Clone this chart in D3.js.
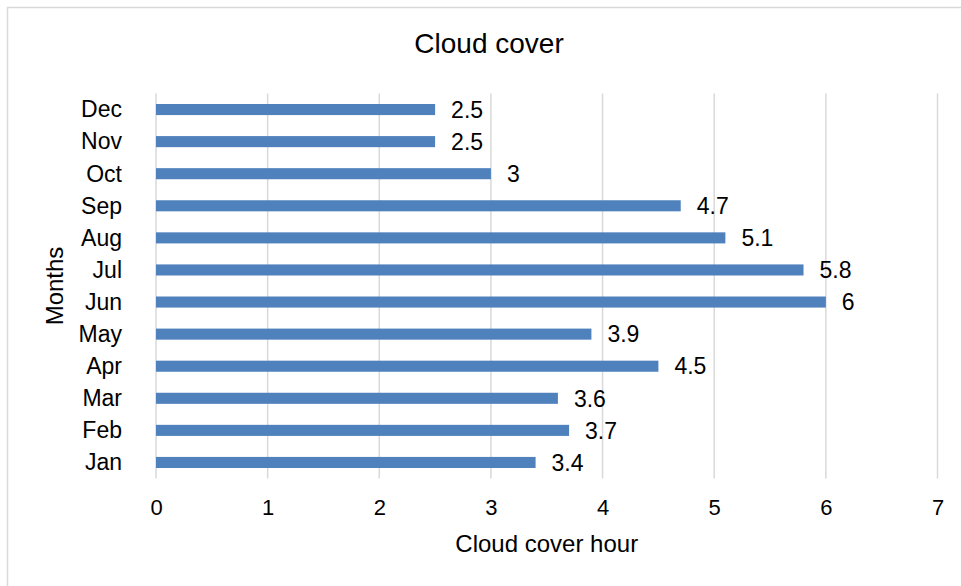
<!DOCTYPE html>
<html>
<head>
<meta charset="utf-8">
<script src="https://cdn.jsdelivr.net/npm/d3@7"></script>
<style>
  body { margin: 0; background: #fff; }
  svg text { font-family: "Liberation Sans", Arial, sans-serif; fill: #000; }
</style>
</head>
<body>
<div id="chart"></div>
<script>
// data
const months = ["Jan", "Feb", "Mar", "Apr", "May", "Jun", "Jul", "Aug", "Sep", "Oct", "Nov", "Dec"];
const hours = [3.4, 3.7, 3.6, 4.5, 3.9, 6, 5.8, 5.1, 4.7, 3, 2.5, 2.5];
const xTicks = [0, 1, 2, 3, 4, 5, 6, 7];

const width = 961;
const height = 586;
const barColor = "#4f81bd";
const gridColor = "#d9d9d9";

const svg = d3.select("#chart")
  .append("svg")
  .attr("width", width)
  .attr("height", height);

// chart area border (runs off the right/bottom edge like the source)
svg.append("rect")
  .attr("x", 7.5)
  .attr("y", 7.5)
  .attr("width", 980)
  .attr("height", 600)
  .attr("fill", "#fff")
  .attr("stroke", gridColor)
  .attr("stroke-width", 1.5);

const plot = { left: 156, right: 937.5, top: 93.5, bottom: 478.5 };

const x = d3.scaleLinear()
  .domain([0, 7])
  .range([plot.left, plot.right]);

// Dec on top, Jan at the bottom
const y = d3.scaleBand()
  .domain(months.slice().reverse())
  .range([plot.top, plot.bottom])
  .paddingInner(0.655)
  .paddingOuter(0.655 / 2);

const data = months.map((m, i) => ({ month: m, value: hours[i] }));

// vertical gridlines
svg.append("g")
  .selectAll("line")
  .data(xTicks)
  .enter()
  .append("line")
  .attr("x1", d => x(d))
  .attr("x2", d => x(d))
  .attr("y1", plot.top)
  .attr("y2", plot.bottom)
  .attr("stroke", gridColor)
  .attr("stroke-width", 1.5);

// bars
svg.append("g")
  .selectAll("rect")
  .data(data)
  .enter()
  .append("rect")
  .attr("x", x(0))
  .attr("y", d => y(d.month))
  .attr("width", d => x(d.value) - x(0))
  .attr("height", y.bandwidth())
  .attr("fill", barColor);

// data labels
svg.append("g")
  .selectAll("text")
  .data(data)
  .enter()
  .append("text")
  .attr("x", d => x(d.value) + 16)
  .attr("y", d => y(d.month) + y.bandwidth() / 2)
  .attr("dy", "0.36em")
  .style("font-size", "23px")
  .text(d => d.value);

// x axis tick labels
const xAxis = d3.axisBottom(x)
  .tickValues(xTicks)
  .tickSize(0)
  .tickPadding(0)
  .tickFormat(d3.format("d"));

const gx = svg.append("g")
  .attr("transform", `translate(0,${plot.bottom})`)
  .call(xAxis);
gx.select(".domain").remove();
gx.selectAll("text")
  .attr("y", 36.5)
  .attr("dy", null)
  .style("font-size", "22px")
  .style("font-family", "'Liberation Sans', Arial, sans-serif")
  .attr("fill", "#000");

// y axis category labels
const yAxis = d3.axisLeft(y)
  .tickSize(0)
  .tickPadding(34);

const gy = svg.append("g")
  .attr("transform", `translate(${plot.left},0)`)
  .call(yAxis);
gy.select(".domain").remove();
gy.selectAll("text")
  .attr("dy", "0.34em")
  .style("font-size", "23px")
  .style("font-family", "'Liberation Sans', Arial, sans-serif")
  .attr("fill", "#000");

// title
svg.append("text")
  .attr("x", 489)
  .attr("y", 53)
  .attr("text-anchor", "middle")
  .style("font-size", "28px")
  .text("Cloud cover");

// axis titles
svg.append("text")
  .attr("x", (plot.left + plot.right) / 2)
  .attr("y", 552)
  .attr("text-anchor", "middle")
  .style("font-size", "24px")
  .text("Cloud cover hour");

svg.append("text")
  .attr("transform", "translate(63,286) rotate(-90)")
  .attr("text-anchor", "middle")
  .style("font-size", "24px")
  .text("Months");
</script>
</body>
</html>
